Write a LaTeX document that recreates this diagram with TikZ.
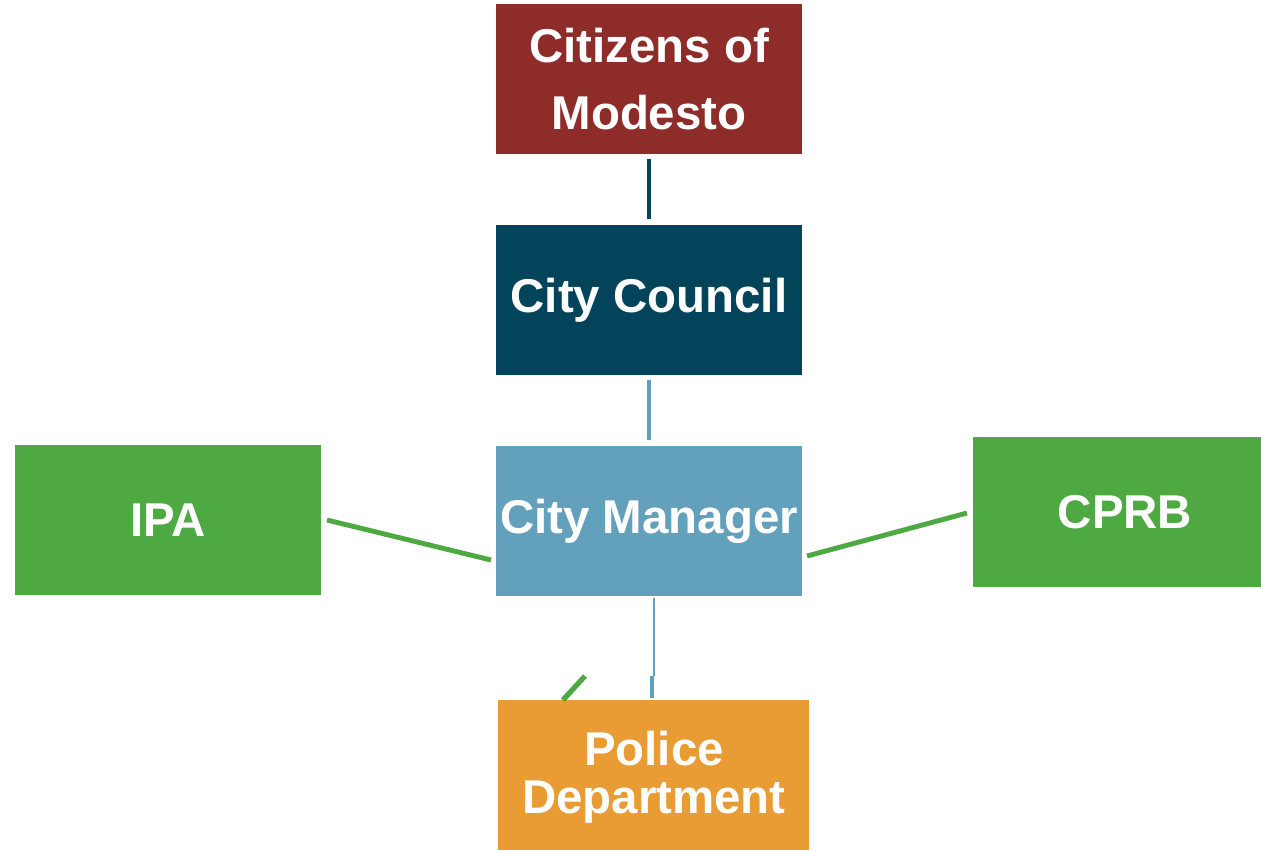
\documentclass[tikz,border=0pt]{standalone}
\usepackage{fontspec}
\setmainfont{Liberation Sans}
\definecolor{cred}{HTML}{8E2C2A}
\definecolor{cteal}{HTML}{03445A}
\definecolor{cblue}{HTML}{62A0BC}
\definecolor{cgreen}{HTML}{4EA943}
\definecolor{corange}{HTML}{E89C33}
\begin{document}
\begin{tikzpicture}[x=0.02cm,y=-0.02cm,
  box/.style={draw=none,inner sep=0pt,text=white,font=\fontsize{27}{38}\selectfont\bfseries,align=center},
  conn/.style={line width=2.4pt}]
\useasboundingbox (0,0) rectangle (1261,850);
% boxes
\fill[cred] (496,4) rectangle (802,154);
\node[box] (cit) at (649,79) {Citizens of\\Modesto};
\fill[cteal] (496,225) rectangle (802,375);
\node[box] (cc) at (649,300) {City Council};
\fill[cblue] (496,446) rectangle (802,596);
\node[box] (cm) at (649,521) {City Manager};
\fill[cgreen] (15,445) rectangle (321,595);
\node[box] (ipa) at (168,520) {IPA};
\fill[cgreen] (973,437) rectangle (1261,587);
\node[box] (cprb) at (1125,512) {CPRB};
\fill[corange] (498,700) rectangle (809,850);
\node[box,font=\fontsize{27}{27.5}\selectfont\bfseries] (pd) at (654,777) {Police\\Department};
% anchor coordinates
\coordinate (citB) at (649,159);
\coordinate (ccT) at (649,219);
\coordinate (ccB) at (649,380);
\coordinate (cmT) at (649,440);
\coordinate (cmB) at (654,598);
\coordinate (pdT) at (654,676);
\coordinate (pdT2) at (652,698);
\coordinate (pdT3) at (652,676);
\coordinate (ipaR) at (327,520);
\coordinate (cmL) at (491,560);
\coordinate (cmR) at (807,556);
\coordinate (cprbL) at (967,513);
\coordinate (stubA) at (585,676);
\coordinate (stubB) at (563,700);
% connectors
\draw[conn,cteal,line width=2.2pt] (citB) -- (ccT);
\draw[conn,cblue,line width=2.2pt] (ccB) -- (cmT);
\draw[cblue,line width=1.6pt] (cmB) -- (pdT);
\draw[cblue,line width=2.8pt] (pdT3) -- (pdT2);
\draw[conn,cgreen,line width=2.8pt] (ipaR) -- (cmL);
\draw[conn,cgreen,line width=2.8pt] (cmR) -- (cprbL);
\draw[cgreen,line width=3pt] (stubA) -- (stubB);
\end{tikzpicture}
\end{document}
